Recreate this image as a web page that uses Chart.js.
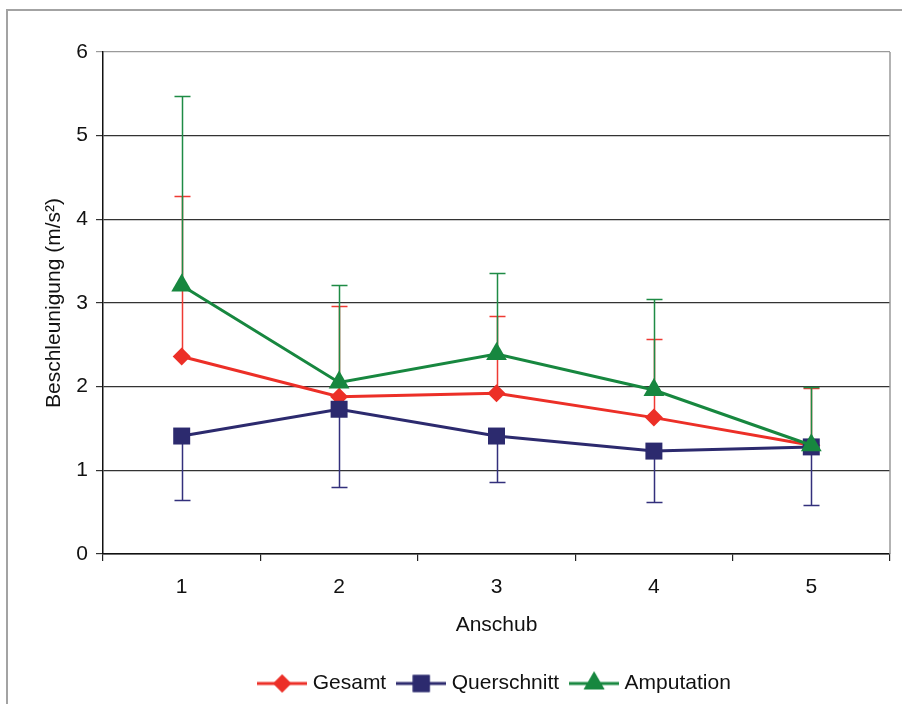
<!DOCTYPE html>
<html>
<head>
<meta charset="utf-8">
<script src="https://cdn.jsdelivr.net/npm/chart.js@4"></script>
<style>
  body { margin: 0; background: #fff; overflow: hidden; }
  #wrap { position: relative; width: 902px; height: 704px; overflow: hidden; }
  #frame { position: absolute; left: 6px; top: 9px; width: 2000px; height: 2000px;
           border-left: 2px solid #a3a3a3; border-top: 2px solid #a3a3a3; }
  canvas { position: absolute; left: 0; top: 0; }
</style>
</head>
<body>
<div id="wrap">
  <div id="frame"></div>
  <canvas id="chart" width="902" height="704"></canvas>
</div>
<script>
// Values
const labels = ["1", "2", "3", "4", "5"];
const gesamt = [2.36, 1.88, 1.92, 1.63, 1.30];
const gesamtUpper = [4.28, 2.97, 2.85, 2.57, 1.98];
const querschnitt = [1.41, 1.73, 1.41, 1.23, 1.28];
const querschnittLower = [0.64, 0.80, 0.86, 0.62, 0.58];
const amputation = [3.21, 2.05, 2.39, 1.96, 1.30];
const amputationUpper = [5.47, 3.21, 3.36, 3.05, 2.00];

const red = "#ec2f27";
const navy = "#2c2a6e";
const green = "#17873f";
const font = "'Liberation Sans', Arial, sans-serif";

// error bar endpoints per dataset index
const errorEnds = [gesamtUpper, querschnittLower, amputationUpper];
const errorColors = ["#ee3a33", "#33307c", "#1e8b45"];

const errorBars = {
  id: "errorBars",
  beforeDatasetsDraw(chart) {
    const ctx = chart.ctx;
    const x = chart.scales.x;
    const y = chart.scales.y;
    ctx.save();
    errorEnds.forEach((ends, di) => {
      const vals = chart.data.datasets[di].data;
      ctx.strokeStyle = errorColors[di];
      ctx.lineWidth = 1.5;
      ends.forEach((end, i) => {
        const px = Math.round(x.getPixelForValue(i)) + 0.5;
        const y0 = y.getPixelForValue(vals[i]);
        const y1 = Math.round(y.getPixelForValue(end)) + 0.5;
        ctx.beginPath();
        ctx.moveTo(px, y0);
        ctx.lineTo(px, y1);
        ctx.moveTo(px - 8, y1);
        ctx.lineTo(px + 8, y1);
        ctx.stroke();
      });
    });
    ctx.restore();
  },
  afterDraw(chart) {
    // grey right border of the plot area
    const a = chart.chartArea;
    const ctx = chart.ctx;
    ctx.save();
    ctx.strokeStyle = "#9a9a9a";
    ctx.lineWidth = 1.5;
    ctx.beginPath();
    ctx.moveTo(a.right, a.top);
    ctx.lineTo(a.right, a.bottom);
    ctx.stroke();
    ctx.restore();
  }
};

// small picture with a line and the marker, for the legend
function legendIcon(color, style, radius) {
  const c = document.createElement("canvas");
  c.width = 50;
  c.height = 26;
  const g = c.getContext("2d");
  g.strokeStyle = color;
  g.lineWidth = 3;
  g.beginPath();
  g.moveTo(0, 13);
  g.lineTo(50, 13);
  g.stroke();
  g.fillStyle = color;
  Chart.helpers.drawPoint(g, { pointStyle: style, radius: radius, rotation: 0, borderWidth: 0 }, 25, 13);
  g.fill();
  return c;
}

const ctx = document.getElementById("chart").getContext("2d");
const icons = [legendIcon(red, "rectRot", 9), legendIcon(navy, "rect", 12), legendIcon(green, "triangle", 12)];

new Chart(ctx, {
  type: "line",
  data: {
    labels,
    datasets: [
      { label: "Gesamt", data: gesamt, borderColor: red, backgroundColor: red, borderWidth: 3,
        pointStyle: "rectRot", pointRadius: 9, pointBorderWidth: 0, order: 3 },
      { label: "Querschnitt", data: querschnitt, borderColor: navy, backgroundColor: navy, borderWidth: 3,
        pointStyle: "rect", pointRadius: 12, pointBorderWidth: 0, order: 2 },
      { label: "Amputation", data: amputation, borderColor: green, backgroundColor: green, borderWidth: 3,
        pointStyle: "triangle", pointRadius: 12, pointBorderWidth: 0, order: 1 }
    ]
  },
  options: {
    responsive: false,
    animation: false,
    layout: { padding: { left: 42, right: 12, top: 52, bottom: 0 } },
    scales: {
      x: {
        offset: true,
        grid: { display: true, drawOnChartArea: false, offset: true, tickLength: 7, color: "#222", lineWidth: 1.2 },
        border: { color: "#111", width: 1.5 },
        ticks: { color: "#111", font: { family: font, size: 21 }, padding: 14 },
        title: { display: true, text: "Anschub", color: "#111", font: { family: font, size: 21 }, padding: { top: 4, bottom: 20 } },
        afterFit(scale) { scale.height = 104; }
      },
      y: {
        min: 0,
        max: 6,
        ticks: { stepSize: 1, color: "#111", font: { family: font, size: 21 }, padding: 8 },
        grid: { tickLength: 7, color: (c) => c.tick && c.tick.value === 6 ? "#9a9a9a" : "#333", lineWidth: 1.2 },
        border: { color: "#111", width: 1.5 },
        title: { display: true, text: "Beschleunigung (m/s²)", color: "#111", font: { family: font, size: 21 }, padding: 0 },
        afterFit(scale) { scale.width = 61; }
      }
    },
    plugins: {
      tooltip: { enabled: false },
      legend: {
        position: "bottom",
        fullSize: false,
        labels: {
          usePointStyle: true,
          pointStyleWidth: 40,
          padding: 15,
          color: "#111",
          font: { family: font, size: 21 },
          generateLabels(chart) {
            return chart.data.datasets.map((ds, i) => ({
              text: ds.label,
              pointStyle: icons[i],
              fillStyle: ds.borderColor,
              strokeStyle: ds.borderColor,
              lineWidth: 0,
              hidden: false,
              datasetIndex: i,
              fontColor: "#111"
            }));
          }
        }
      }
    }
  },
  plugins: [errorBars]
});
</script>
</body>
</html>
